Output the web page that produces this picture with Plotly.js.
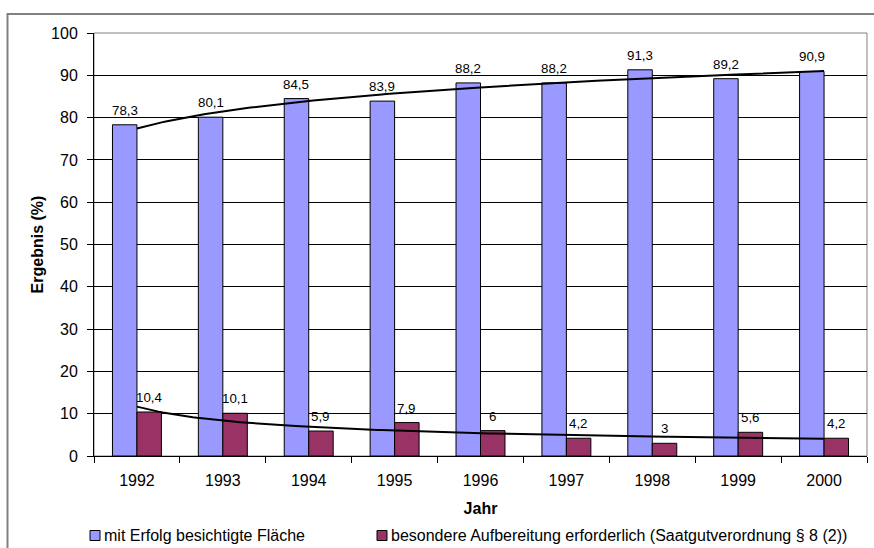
<!DOCTYPE html>
<html>
<head>
<meta charset="utf-8">
<script src="https://cdn.plot.ly/plotly-3.0.1.min.js"></script>
<style>
  html, body { margin: 0; padding: 0; background: #ffffff; }
  #chart { width: 874px; height: 548px; }
</style>
</head>
<body>
<div id="chart"></div>
<script>
// Feldbesichtigung: Ergebnisse je Jahr (in %)
const years = ['1992', '1993', '1994', '1995', '1996', '1997', '1998', '1999', '2000'];
const flaeche = [78.3, 80.1, 84.5, 83.9, 88.2, 88.2, 91.3, 89.2, 90.9];
const aufbereitung = [10.4, 10.1, 5.9, 7.9, 6, 4.2, 3, 5.6, 4.2];
const seriesNames = [
  'mit Erfolg besichtigte Fläche',
  'besondere Aufbereitung erforderlich (Saatgutverordnung § 8 (2))'
];
const yTickValues = [0, 10, 20, 30, 40, 50, 60, 70, 80, 90, 100];

const FONT = 'Arial, "Liberation Sans", sans-serif';
const TEXT_SIZE = 16;
const LABEL_SIZE = 13.3;
const BLUE = '#9999ff';
const MAROON = '#993366';

// German decimal comma for the value labels
const label = v => String(v).replace('.', ',');

// Power trend line y = c * x^b (least squares on ln x / ln y, x = 1..n)
function powerTrend(values) {
  const n = values.length;
  const lx = values.map((_, i) => Math.log(i + 1));
  const ly = values.map(v => Math.log(v));
  const mx = lx.reduce((s, v) => s + v, 0) / n;
  const my = ly.reduce((s, v) => s + v, 0) / n;
  let sxy = 0, sxx = 0;
  for (let i = 0; i < n; i++) {
    sxy += (lx[i] - mx) * (ly[i] - my);
    sxx += (lx[i] - mx) * (lx[i] - mx);
  }
  const b = sxy / sxx, c = Math.exp(my - b * mx);
  const xs = [], ys = [];
  for (let k = 0; k <= 160; k++) {
    const x = 1 + (n - 1) * k / 160;
    xs.push(x);
    ys.push(c * Math.pow(x, b));
  }
  return { xs, ys };
}

const W = 874, H = 548;
const M = { l: 94, r: 7, t: 33, b: 92 };
const PW = W - M.l - M.r, PH = H - M.t - M.b;
// pixel -> paper helpers for the frame and legend
const px = x => (x - M.l) / PW;
const py = y => (H - M.b - y) / PH;

const BARGAP = 0.43;
const catWidth = PW / years.length;
const barWidth = catWidth * (1 - BARGAP) / 2;

const trendA = powerTrend(flaeche);
const trendB = powerTrend(aufbereitung);

const traces = [
  {
    type: 'bar', x: years, y: flaeche, name: seriesNames[0],
    marker: { color: BLUE, line: { color: '#000000', width: 1 } },
    hoverinfo: 'x+y'
  },
  {
    type: 'bar', x: years, y: aufbereitung, name: seriesNames[1],
    marker: { color: MAROON, line: { color: '#000000', width: 1 } },
    hoverinfo: 'x+y'
  },
  {
    type: 'scatter', mode: 'lines', x: trendA.xs, y: trendA.ys, xaxis: 'x2',
    line: { color: '#000000', width: 2 }, hoverinfo: 'skip', showlegend: false
  },
  {
    type: 'scatter', mode: 'lines', x: trendB.xs, y: trendB.ys, xaxis: 'x2',
    line: { color: '#000000', width: 2 }, hoverinfo: 'skip', showlegend: false
  }
];

// value labels above each bar (category position = index on the x axis)
const valueLabels = [];
[[flaeche, -barWidth / 2], [aufbereitung, barWidth / 2]].forEach(([vals, dx]) => {
  vals.forEach((v, i) => {
    valueLabels.push({
      x: i, y: v, xref: 'x', yref: 'y', xshift: dx, yshift: 5,
      xanchor: 'center', yanchor: 'bottom', showarrow: false,
      text: label(v), font: { family: FONT, size: LABEL_SIZE, color: '#000000' }
    });
  });
});

const layout = {
  width: W, height: H,
  margin: M,
  paper_bgcolor: '#ffffff', plot_bgcolor: '#ffffff',
  font: { family: FONT, size: TEXT_SIZE, color: '#000000' },
  showlegend: false,
  barmode: 'group', bargap: BARGAP, bargroupgap: 0,
  xaxis: {
    type: 'category', range: [-0.5, years.length - 0.5],
    tickson: 'boundaries', ticks: 'outside', ticklen: 6, tickcolor: '#000000', tickwidth: 1,
    showline: true, linecolor: '#000000', linewidth: 1,
    showgrid: false, zeroline: false,
    ticklabelstandoff: 10,
    tickfont: { family: FONT, size: TEXT_SIZE, color: '#000000' },
    title: { text: '<b>Jahr</b>', standoff: 14, font: { family: FONT, size: TEXT_SIZE, color: '#000000' } }
  },
  xaxis2: {
    overlaying: 'x', range: [0.5, years.length + 0.5], visible: false, fixedrange: true
  },
  yaxis: {
    range: [0, 100], tickvals: yTickValues, ticktext: yTickValues.map(String),
    ticks: 'outside', ticklen: 6, tickcolor: '#000000', tickwidth: 1,
    showline: true, linecolor: '#000000', linewidth: 1,
    showgrid: true, gridcolor: '#000000', gridwidth: 1, zeroline: false,
    ticklabelstandoff: 6,
    tickfont: { family: FONT, size: TEXT_SIZE, color: '#000000' },
    title: { text: '<b>Ergebnis (%)</b>', standoff: 3, font: { family: FONT, size: TEXT_SIZE, color: '#000000' } }
  },
  shapes: [
    // plot area border
    { type: 'rect', xref: 'paper', yref: 'paper', x0: 0, x1: 1, y0: 0, y1: 1,
      line: { color: '#808080', width: 1 }, layer: 'below' },
    // chart frame
    { type: 'path', xref: 'paper', yref: 'paper',
      path: `M ${px(7.5)} ${py(560)} L ${px(7.5)} ${py(14)} L ${px(890)} ${py(14)}`,
      line: { color: '#808080', width: 2 } },
    // legend keys
    { type: 'rect', xref: 'paper', yref: 'paper',
      x0: px(90), x1: px(100), y0: py(540.5), y1: py(530.5),
      fillcolor: BLUE, line: { color: '#000000', width: 1 } },
    { type: 'rect', xref: 'paper', yref: 'paper',
      x0: px(377), x1: px(387), y0: py(540.5), y1: py(530.5),
      fillcolor: MAROON, line: { color: '#000000', width: 1 } }
  ],
  annotations: valueLabels.concat([
    { xref: 'paper', yref: 'paper', x: px(102), y: py(535.5), xanchor: 'left', yanchor: 'middle',
      text: seriesNames[0], showarrow: false, font: { family: FONT, size: TEXT_SIZE, color: '#000000' } },
    { xref: 'paper', yref: 'paper', x: px(389), y: py(535.5), xanchor: 'left', yanchor: 'middle',
      text: seriesNames[1], showarrow: false, font: { family: FONT, size: TEXT_SIZE, color: '#000000' } }
  ])
};

Plotly.newPlot('chart', traces, layout, { displayModeBar: false, staticPlot: true });
</script>
</body>
</html>
